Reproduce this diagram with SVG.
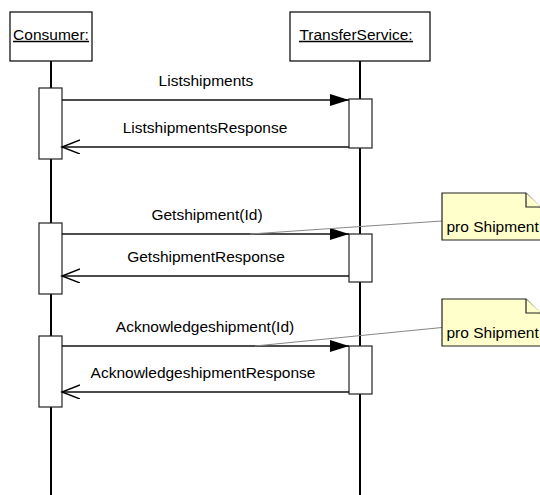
<svg xmlns="http://www.w3.org/2000/svg" width="540" height="495" viewBox="0 0 540 495">
<defs>
<style>
text{font-family:"Liberation Sans",Arial,sans-serif;font-size:15.5px;fill:#000}
.box{fill:#fff;stroke:#000;stroke-width:1.2}
.life{stroke:#000;stroke-width:2;fill:none}
.act{fill:#fff;stroke:#222;stroke-width:1.2}
.msg{stroke:#111;stroke-width:1.4;fill:none}
.note{fill:#ffffcc;stroke:#222;stroke-width:1.2}
.nl{stroke:#888;stroke-width:1.2;fill:none}
.ul{stroke:#000;stroke-width:1.5}
</style>
<marker id="filled" markerWidth="20" markerHeight="14" refX="19" refY="6" orient="auto" markerUnits="userSpaceOnUse">
<path d="M0,0 L19,6 L0,12 Z" fill="#000"/>
</marker>
<marker id="open" markerWidth="20" markerHeight="16" refX="18" refY="7" orient="auto" markerUnits="userSpaceOnUse">
<path d="M0,0 L18,7 L0,14" fill="none" stroke="#000" stroke-width="1.4"/>
</marker>
</defs>
<rect width="540" height="495" fill="#fff"/>
<g id="lifelines">
<line class="life" x1="51" y1="61" x2="51" y2="495"/>
<line class="life" x1="360" y1="61" x2="360" y2="495"/>
</g>
<g id="consumer">
<rect class="box" x="10" y="12" width="82" height="49"/>
<text x="51" y="39.5" text-anchor="middle">Consumer:</text>
<line class="ul" x1="13" y1="41.5" x2="89" y2="41.5"/>
</g>
<g id="transferservice">
<rect class="box" x="290" y="12" width="140" height="49"/>
<text x="356" y="39.5" text-anchor="middle">TransferService:</text>
<line class="ul" x1="299" y1="41.5" x2="413" y2="41.5"/>
</g>
<g id="activations">
<rect class="act" x="39" y="88" width="23" height="71"/>
<rect class="act" x="349" y="99" width="23" height="49"/>
<rect class="act" x="39" y="223" width="23" height="71"/>
<rect class="act" x="349" y="234" width="23" height="48"/>
<rect class="act" x="39" y="336" width="23" height="71"/>
<rect class="act" x="349" y="346" width="23" height="48"/>
</g>
<g id="connectors">
<line class="msg" x1="62" y1="100" x2="349" y2="100" marker-end="url(#filled)"/>
<text x="206" y="86" text-anchor="middle">Listshipments</text>
<line class="msg" x1="349" y1="147" x2="62" y2="147" marker-end="url(#open)"/>
<text x="205" y="133" text-anchor="middle">ListshipmentsResponse</text>
<line class="msg" x1="62" y1="234" x2="349" y2="234" marker-end="url(#filled)"/>
<text x="207" y="220" text-anchor="middle">Getshipment(Id)</text>
<line class="msg" x1="349" y1="276" x2="62" y2="276" marker-end="url(#open)"/>
<text x="206" y="262" text-anchor="middle">GetshipmentResponse</text>
<line class="msg" x1="62" y1="346" x2="349" y2="346" marker-end="url(#filled)"/>
<text x="205" y="332" text-anchor="middle">Acknowledgeshipment(Id)</text>
<line class="msg" x1="349" y1="392" x2="62" y2="392" marker-end="url(#open)"/>
<text x="203" y="378" text-anchor="middle">AcknowledgeshipmentResponse</text>
<line class="nl" x1="442" y1="221" x2="250" y2="234"/>
<line class="nl" x1="442" y1="327.5" x2="255" y2="346"/>
</g>
<g id="note1">
<path class="note" d="M442,193 L526,193 L541,208 L541,240 L442,240 Z"/>
<path class="note" d="M526,193 L526,207 L541,207" fill="none"/>
<text x="446.5" y="232">pro Shipment</text>
</g>
<g id="note2">
<path class="note" d="M442,299 L526,299 L541,314 L541,346 L442,346 Z"/>
<path class="note" d="M526,299 L526,313 L541,313" fill="none"/>
<text x="446.5" y="338">pro Shipment</text>
</g>
</svg>
